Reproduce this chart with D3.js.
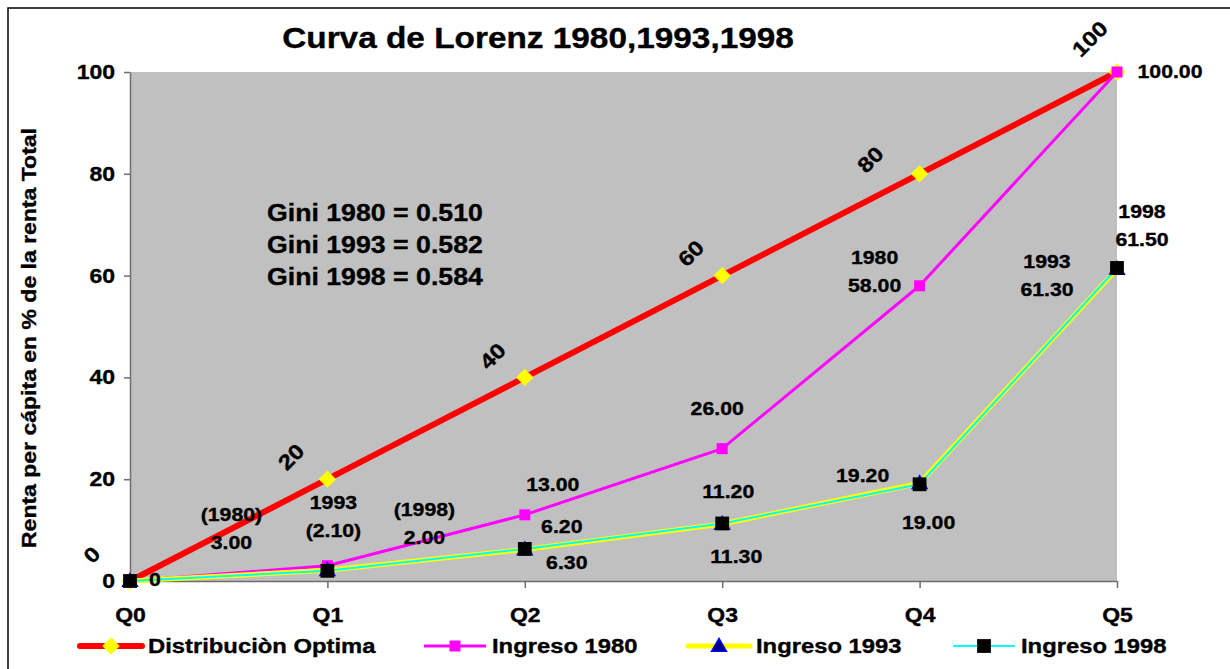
<!DOCTYPE html>
<html>
<head>
<meta charset="utf-8">
<script src="https://cdn.jsdelivr.net/npm/d3@7"></script>
<style>
  body { margin: 0; background: #fff; }
  svg { display: block; }
  text { stroke: #000; stroke-width: 0.35px; }
</style>
</head>
<body>
<div id="chart"></div>
<script>
// data
const categories = ['Q0', 'Q1', 'Q2', 'Q3', 'Q4', 'Q5'];
const optima = [0, 20, 40, 60, 80, 100];
const ingreso1980 = [0, 3, 13, 26, 58, 100];
const ingreso1993 = [0, 2.1, 6.2, 11.2, 19.2, 61.3];
const ingreso1998 = [0, 2.0, 6.3, 11.3, 19.0, 61.5];
const yTicks = [0, 20, 40, 60, 80, 100];
const giniLines = ['Gini 1980 = 0.510', 'Gini 1993 = 0.582', 'Gini 1998 = 0.584'];
const legendNames = ['Distribuciòn Optima', 'Ingreso 1980', 'Ingreso 1993', 'Ingreso 1998'];

const width = 1230, height = 669;
const SX = 1.15; // text in the original is a bit wide
const FONT = "Arial, 'Liberation Sans', sans-serif";

const svg = d3.select('#chart').append('svg')
  .attr('width', width)
  .attr('height', height);

svg.append('rect')
  .attr('x', 8).attr('y', 8)
  .attr('width', 1240).attr('height', 700)
  .attr('fill', '#fff')
  .attr('stroke', '#000')
  .attr('stroke-width', 1.5);

let x = d3.scalePoint().domain(categories).range([130, 1117]);
let y = d3.scaleLinear().domain([0, 100]).range([581, 72]);

function text(g, tx, ty, str, size, anchor = 'middle', rot = 0) {
  return g.append('text')
    .attr('transform', `translate(${tx},${ty}) rotate(${rot}) scale(${SX},1)`)
    .attr('text-anchor', anchor)
    .attr('dominant-baseline', 'central')
    .style('font', `bold ${size}px ${FONT}`)
    .attr('fill', '#000')
    .text(str);
}

// plot area
svg.append('rect')
  .attr('x', x.range()[0]).attr('y', y(100))
  .attr('width', x.range()[1] - x.range()[0])
  .attr('height', y(0) - y(100))
  .attr('fill', '#c0c0c0');

// axes
let yAxis = svg.append('g')
  .attr('transform', `translate(${x.range()[0]},0)`)
  .call(d3.axisLeft(y).tickValues(yTicks).tickSize(6).tickSizeOuter(0).tickPadding(7));
let xAxis = svg.append('g')
  .attr('transform', `translate(0,${y(0)})`)
  .call(d3.axisBottom(x).tickSize(7).tickSizeOuter(0).tickPadding(20));

[yAxis, xAxis].forEach(a => {
  a.select('.domain').attr('stroke', '#6e6e6e').attr('stroke-width', 1.5);
  a.selectAll('.tick line').attr('stroke', '#6e6e6e').attr('stroke-width', 1.5);
});
yAxis.selectAll('.tick text')
  .style('font', `bold 20px ${FONT}`).attr('fill', '#000')
  .attr('transform', `scale(${SX},1)`)
  .attr('x', -13);
xAxis.selectAll('.tick text')
  .style('font', `bold 20px ${FONT}`).attr('fill', '#000')
  .attr('text-anchor', 'middle')
  .attr('transform', `scale(${SX},1)`)
  .attr('x', 0);

// title and axis title
text(svg, 538, 38, 'Curva de Lorenz 1980,1993,1998', 29);
svg.append('text')
  .attr('transform', `translate(29,338) rotate(-90) scale(${SX},1)`)
  .attr('text-anchor', 'middle')
  .attr('dominant-baseline', 'central')
  .style('font', `bold 20px ${FONT}`)
  .text('Renta per cápita en % de la renta Total');

// series
const series = [
  { values: optima, color: '#ff0000', width: 6, marker: 'diamond', fill: '#ffff00', size: 150 },
  { values: ingreso1980, color: '#ff00ff', width: 3, marker: 'square', fill: '#ff00ff', size: 121 },
  { values: ingreso1993, color: '#ffff00', width: 5, marker: 'triangle', fill: '#000080', size: 95 },
  { values: ingreso1998, color: '#00ffff', width: 2, marker: 'square', fill: '#000000', size: 190 }
];

let line = d3.line()
  .x((d, i) => x(categories[i]))
  .y(d => y(d));

function marker(g, s, cx, cy) {
  if (s.marker === 'diamond') {
    g.append('path')
      .attr('d', d3.symbol(d3.symbolSquare, s.size)())
      .attr('transform', `translate(${cx},${cy}) rotate(45)`)
      .attr('fill', s.fill);
  } else if (s.marker === 'triangle') {
    g.append('path')
      .attr('d', d3.symbol(d3.symbolTriangle, s.size)())
      .attr('transform', `translate(${cx},${cy + 1})`)
      .attr('fill', s.fill)
      .attr('stroke', '#0000ff')
      .attr('stroke-width', 1.5);
  } else {
    g.append('path')
      .attr('d', d3.symbol(d3.symbolSquare, s.size)())
      .attr('transform', `translate(${cx},${cy})`)
      .attr('fill', s.fill);
  }
}

series.forEach(s => {
  let g = svg.append('g');
  g.append('path')
    .datum(s.values)
    .attr('d', line)
    .attr('fill', 'none')
    .attr('stroke', s.color)
    .attr('stroke-width', s.width)
    .attr('stroke-linejoin', 'round');
  s.values.forEach((v, i) => marker(g, s, x(categories[i]), y(v)));
});

// labels on the optimal line (rotated)
const optOffsets = [[-38, -26], [-36, -22], [-32, -21], [-31, -22], [-49, -14], [-27, -33]];
optima.forEach((v, i) => {
  svg.append('text')
    .attr('transform', `translate(${x(categories[i]) + optOffsets[i][0]},${y(v) + optOffsets[i][1]}) rotate(-45) scale(${SX},1)`)
    .attr('text-anchor', 'middle')
    .attr('dominant-baseline', 'central')
    .style('font', `bold 21px ${FONT}`)
    .text(d3.format('d')(v));
});

// data labels: [series values, index, lines, dx, dy]
const fmt = d3.format('.2f');
const dataLabels = [
  [ingreso1980, 0, ['0'], 25, -1],
  [ingreso1980, 1, ['(1980)', fmt(ingreso1980[1])], -96, -51],
  [ingreso1980, 2, [fmt(ingreso1980[2])], 28, -30],
  [ingreso1980, 3, [fmt(ingreso1980[3])], -5, -40],
  [ingreso1980, 4, ['1980', fmt(ingreso1980[4])], -45, -28],
  [ingreso1980, 5, [fmt(ingreso1980[5])], 53, 0],
  [ingreso1993, 1, ['1993', '(' + fmt(ingreso1993[1]) + ')'], 6, -68],
  [ingreso1993, 2, [fmt(ingreso1993[2])], 37, -23],
  [ingreso1993, 3, [fmt(ingreso1993[3])], 6, -32],
  [ingreso1993, 4, [fmt(ingreso1993[4])], -57, -8],
  [ingreso1993, 5, ['1993', fmt(ingreso1993[5])], -70, -7],
  [ingreso1998, 1, ['(1998)', fmt(ingreso1998[1])], 97, -61],
  [ingreso1998, 2, [fmt(ingreso1998[2])], 42, 14],
  [ingreso1998, 3, [fmt(ingreso1998[3])], 14, 33],
  [ingreso1998, 4, [fmt(ingreso1998[4])], 9, 38],
  [ingreso1998, 5, ['1998', fmt(ingreso1998[5])], 25, -56]
];
dataLabels.forEach(([vals, i, lines, dx, dy]) => {
  lines.forEach((l, k) => {
    text(svg, x(categories[i]) + dx, y(vals[i]) + dy + k * 28, l, 18.5);
  });
});

// gini box
giniLines.forEach((l, k) => {
  text(svg, 267, 213 + k * 32, l, 23.2, 'start');
});

// legend
const legendX = [80, 424, 688, 953];
const legendY = 646;
series.forEach((s, k) => {
  let g = svg.append('g');
  g.append('line')
    .attr('x1', legendX[k]).attr('x2', legendX[k] + 62)
    .attr('y1', legendY).attr('y2', legendY)
    .attr('stroke', s.color)
    .attr('stroke-width', s.width)
    .attr('stroke-linecap', k === 0 || k === 2 ? 'round' : 'butt');
  marker(g, s, legendX[k] + 31, legendY);
  text(g, legendX[k] + 68, legendY, legendNames[k], 20.7, 'start');
});
</script>
</body>
</html>
